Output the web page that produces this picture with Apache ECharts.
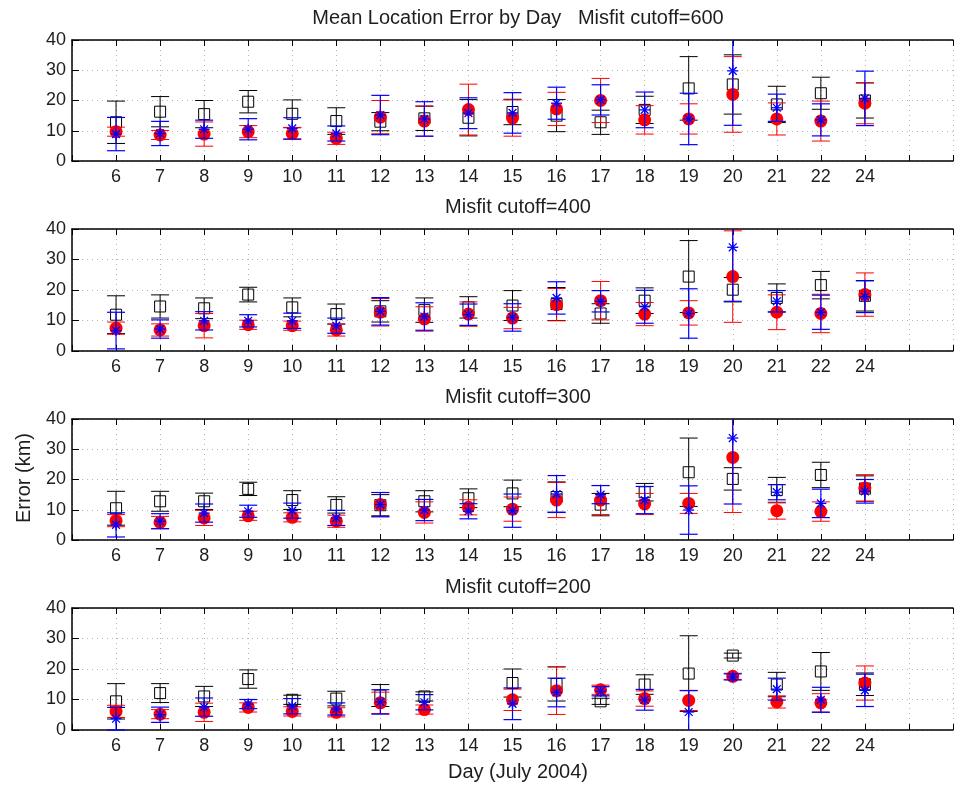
<!DOCTYPE html>
<html>
<head>
<meta charset="utf-8">
<script src="https://cdn.jsdelivr.net/npm/echarts@6/dist/echarts.min.js"></script>
<style>
html, body { margin: 0; padding: 0; background: #fff; }
#chart { width: 956px; height: 787px; }
</style>
</head>
<body>
<div id="chart"></div>
<script>
// Days of July 2004 (no run on the 23rd)
const dayLabels = ['6','7','8','9','10','11','12','13','14','15','16','17','18','19','20','21','22','24'];
const yTicks = [0, 10, 20, 30, 40];

// Misfit cutoff = 600
const c600SquareMean = [12.8, 16.3, 15.5, 19.6, 15.6, 13.2, 13.0, 14.1, 14.3, 16.2, 15.0, 12.8, 16.9, 24.0, 25.3, 18.7, 22.4, 20.0];
const c600SquareErr  = [7.0, 5.0, 4.5, 3.7, 4.6, 4.4, 3.0, 4.0, 6.0, 4.2, 5.3, 4.0, 4.5, 10.5, 9.8, 6.0, 5.3, 5.8];
const c600StarMean   = [8.9, 9.1, 10.5, 10.5, 10.8, 9.1, 15.2, 13.9, 15.8, 15.9, 19.1, 20.2, 16.9, 13.9, 29.8, 17.6, 13.6, 20.7];
const c600StarErr    = [5.5, 4.0, 3.0, 3.5, 3.5, 2.5, 6.5, 5.7, 5.1, 6.7, 5.3, 5.0, 5.9, 8.5, 18.0, 4.5, 5.3, 9.0];
const c600DotMean    = [9.7, 8.6, 8.9, 9.7, 9.1, 7.5, 14.5, 13.2, 17.0, 14.2, 17.2, 20.0, 13.6, 13.9, 22.0, 13.9, 13.2, 19.1];
const c600DotErr     = [1.5, 1.5, 4.0, 2.0, 2.0, 2.0, 5.5, 5.0, 8.4, 6.0, 5.5, 7.3, 4.7, 5.0, 12.5, 5.3, 6.6, 6.8];

// Misfit cutoff = 400
const c400SquareMean = [11.9, 14.6, 14.0, 18.5, 14.3, 12.1, 13.0, 13.4, 14.3, 14.9, 15.4, 12.3, 16.5, 24.4, 20.1, 17.4, 21.6, 18.1];
const c400SquareErr  = [6.2, 3.8, 3.4, 2.4, 3.1, 3.3, 3.5, 4.0, 3.5, 4.9, 5.4, 3.2, 4.2, 11.8, 4.0, 4.6, 4.5, 5.0];
const c400StarMean   = [6.7, 7.2, 9.9, 9.9, 9.9, 8.3, 13.0, 11.3, 11.9, 11.0, 17.4, 16.3, 14.5, 12.3, 34.0, 16.3, 12.7, 17.8];
const c400StarErr    = [6.0, 3.0, 3.0, 2.0, 2.5, 2.5, 4.5, 4.5, 3.5, 4.5, 5.3, 3.5, 5.4, 8.1, 17.7, 3.5, 5.6, 5.2];
const c400DotMean    = [7.5, 6.9, 8.3, 8.6, 8.3, 6.9, 12.7, 10.5, 12.1, 10.8, 15.2, 16.5, 12.1, 12.5, 24.4, 12.7, 12.3, 18.5];
const c400DotErr     = [2.0, 2.0, 4.0, 1.5, 1.5, 2.0, 4.5, 4.0, 4.0, 3.5, 5.3, 6.3, 3.8, 4.0, 15.0, 5.7, 6.3, 7.1];

// Misfit cutoff = 300
const c300SquareMean = [10.5, 12.8, 12.8, 16.9, 13.2, 11.6, 11.5, 12.8, 13.8, 15.4, 14.2, 11.7, 15.8, 22.4, 20.2, 16.5, 21.5, 17.0];
const c300SquareErr  = [5.6, 3.3, 2.7, 2.2, 3.1, 2.7, 3.5, 3.5, 3.1, 4.4, 5.0, 3.7, 2.9, 11.3, 3.7, 4.2, 4.2, 4.2];
const c300StarMean   = [5.0, 6.2, 8.9, 9.5, 9.7, 7.3, 11.7, 9.9, 9.5, 9.7, 15.2, 15.0, 13.2, 9.9, 33.7, 15.8, 12.1, 16.1];
const c300StarErr    = [4.0, 2.5, 3.0, 2.0, 2.5, 2.5, 4.0, 3.5, 2.5, 5.5, 6.1, 3.0, 4.5, 8.0, 21.8, 2.5, 4.7, 3.9];
const c300DotMean    = [6.4, 5.8, 7.3, 8.0, 7.5, 6.2, 11.7, 9.1, 10.8, 10.2, 13.2, 13.2, 11.9, 12.1, 27.3, 9.7, 9.4, 17.2];
const c300DotErr     = [2.0, 2.0, 2.5, 1.5, 1.5, 2.0, 4.0, 3.5, 2.5, 4.0, 5.8, 4.8, 3.5, 3.3, 18.2, 2.8, 3.2, 4.4];

// Misfit cutoff = 200 (no events kept on the 14th)
const c200SquareMean = [9.4, 12.1, 11.0, 16.7, 9.9, 10.3, 11.3, 11.0, null, 15.4, 15.1, 9.4, 14.9, 18.5, 24.4, 14.9, 19.2, 15.0];
const c200SquareErr  = [5.8, 3.1, 3.3, 3.0, 1.5, 2.4, 3.6, 1.5, null, 4.6, 5.6, 1.0, 3.2, 12.4, 0.8, 4.0, 6.2, 3.7];
const c200StarMean   = [3.7, 5.0, 7.5, 8.5, 7.8, 6.9, 9.2, 9.1, null, 8.6, 12.3, 12.7, 9.9, 5.9, 17.4, 13.4, 9.9, 13.0];
const c200StarErr    = [3.7, 2.5, 3.0, 1.5, 2.5, 2.0, 4.0, 2.5, null, 5.2, 4.7, 1.5, 3.4, 7.0, 1.0, 3.6, 4.1, 5.3];
const c200DotMean    = [6.1, 5.2, 5.8, 7.4, 6.1, 5.8, 8.9, 6.7, null, 9.9, 12.9, 13.2, 10.3, 9.7, 17.6, 9.2, 8.9, 15.4];
const c200DotErr     = [2.0, 1.5, 3.0, 1.5, 1.5, 1.5, 3.5, 1.5, null, 3.5, 7.8, 1.5, 2.5, 3.3, 1.0, 2.0, 3.0, 5.6];

const panelTitles = [
  'Mean Location Error by Day   Misfit cutoff=600',
  'Misfit cutoff=400',
  'Misfit cutoff=300',
  'Misfit cutoff=200'
];

const panels = [
  { square: [c600SquareMean, c600SquareErr], star: [c600StarMean, c600StarErr], dot: [c600DotMean, c600DotErr] },
  { square: [c400SquareMean, c400SquareErr], star: [c400StarMean, c400StarErr], dot: [c400DotMean, c400DotErr] },
  { square: [c300SquareMean, c300SquareErr], star: [c300StarMean, c300StarErr], dot: [c300DotMean, c300DotErr] },
  { square: [c200SquareMean, c200SquareErr], star: [c200StarMean, c200StarErr], dot: [c200DotMean, c200DotErr] }
];

// Layout of the four stacked axes boxes
const FONT = '"Liberation Sans", Arial, Helvetica, sans-serif';
const TEXT_COLOR = '#1e1e1e';
const gridLeft = 72;
const gridWidth = 892;
const gridTops = [40, 229, 419, 608];
const gridHeights = [121, 122, 121, 122];
const titleY = [18, 207, 397, 587];

function toData(means, errs) {
  const out = [];
  means.forEach((m, i) => {
    if (m !== null && errs[i] !== null) out.push([i, m, errs[i]]);
  });
  return out;
}

// Error bar (vertical line with caps) plus marker, clipped to the axes box
function makeRenderer(kind, color) {
  return function (params, api) {
    const x = api.value(0), v = api.value(1), e = api.value(2);
    if (isNaN(v)) return;
    const cs = params.coordSys;
    const yMin = cs.y, yMax = cs.y + cs.height;
    const c = api.coord([x, v]);
    const t = api.coord([x, v + e]);
    const b = api.coord([x, v - e]);
    const cap = 9;
    const stroke = { stroke: color, lineWidth: kind === 'star' ? 1.2 : 1, fill: null };
    const children = [];
    const y1 = Math.max(t[1], yMin), y2 = Math.min(b[1], yMax);
    children.push({ type: 'line', shape: { x1: c[0], y1: y1, x2: c[0], y2: y2 }, style: stroke });
    if (t[1] >= yMin) children.push({ type: 'line', shape: { x1: c[0] - cap, y1: t[1], x2: c[0] + cap, y2: t[1] }, style: stroke });
    if (b[1] <= yMax) children.push({ type: 'line', shape: { x1: c[0] - cap, y1: b[1], x2: c[0] + cap, y2: b[1] }, style: stroke });
    if (c[1] >= yMin - 1 && c[1] <= yMax + 1) {
      if (kind === 'square') {
        children.push({ type: 'rect', shape: { x: c[0] - 5.5, y: c[1] - 5.5, width: 11, height: 11 },
          style: { fill: null, stroke: color, lineWidth: 1 } });
      } else if (kind === 'dot') {
        children.push({ type: 'circle', shape: { cx: c[0], cy: c[1], r: 6.5 }, style: { fill: color } });
      } else {
        const r = 5.5, d = 3.9;
        const st = { stroke: color, lineWidth: 1.3 };
        children.push({ type: 'line', shape: { x1: c[0], y1: c[1] - r, x2: c[0], y2: c[1] + r }, style: st });
        children.push({ type: 'line', shape: { x1: c[0] - r, y1: c[1], x2: c[0] + r, y2: c[1] }, style: st });
        children.push({ type: 'line', shape: { x1: c[0] - d, y1: c[1] - d, x2: c[0] + d, y2: c[1] + d }, style: st });
        children.push({ type: 'line', shape: { x1: c[0] - d, y1: c[1] + d, x2: c[0] + d, y2: c[1] - d }, style: st });
      }
    }
    return { type: 'group', children: children };
  };
}

const grids = [], xAxes = [], yAxes = [], series = [];
const gridLine = { show: true, lineStyle: { color: '#b4b4b4', width: 1, type: [1, 4] } };

panels.forEach((p, i) => {
  grids.push({ left: gridLeft, width: gridWidth, top: gridTops[i], height: gridHeights[i], show: false });
  // bottom axis with day labels
  xAxes.push({
    gridIndex: i, type: 'value', min: -1, max: 19, interval: 1, position: 'bottom',
    axisLine: { show: true, onZero: false, lineStyle: { color: '#000', width: 1.5 } },
    axisTick: { show: true, inside: true, length: 6, lineStyle: { color: '#000' } },
    axisLabel: {
      fontSize: 18, fontFamily: FONT, color: TEXT_COLOR, margin: 7,
      showMinLabel: true, showMaxLabel: true,
      formatter: function (val) {
        const k = Math.round(val);
        return (k >= 0 && k < dayLabels.length) ? dayLabels[k] : '';
      }
    },
    splitLine: gridLine
  });
  // top edge of the box with inward ticks
  xAxes.push({
    gridIndex: i, type: 'value', min: -1, max: 19, interval: 1, position: 'top',
    axisLine: { show: true, onZero: false, lineStyle: { color: '#000', width: 1.5 } },
    axisTick: { show: true, inside: true, length: 6, lineStyle: { color: '#000' } },
    axisLabel: { show: false },
    splitLine: { show: false }
  });
  yAxes.push({
    gridIndex: i, type: 'value', min: yTicks[0], max: yTicks[yTicks.length - 1], interval: 10,
    axisLine: { show: true, onZero: false, lineStyle: { color: '#000', width: 1.5 } },
    axisTick: { show: true, inside: true, length: 7, lineStyle: { color: '#000' } },
    axisLabel: { fontSize: 18, fontFamily: FONT, color: TEXT_COLOR, margin: 6 },
    splitLine: gridLine
  });
  const xi = i * 2;
  [['square', '#000000'], ['dot', '#ff0000'], ['star', '#0000ff']].forEach(([kind, color]) => {
    series.push({
      type: 'custom', name: kind + '-' + i, xAxisIndex: xi, yAxisIndex: i,
      renderItem: makeRenderer(kind, color),
      encode: { x: 0, y: 1 },
      data: toData(p[kind][0], p[kind][1]),
      silent: true, animation: false
    });
  });
});

const graphics = panelTitles.map((t, i) => ({
  type: 'text', x: gridLeft + gridWidth / 2, y: titleY[i],
  style: { text: t, font: '20px ' + FONT, fill: TEXT_COLOR, align: 'center', verticalAlign: 'middle' }
}));
graphics.push({
  type: 'text', x: gridLeft + gridWidth / 2, y: 772,
  style: { text: 'Day (July 2004)', font: '20px ' + FONT, fill: TEXT_COLOR, align: 'center', verticalAlign: 'middle' }
});
graphics.push({
  type: 'text', x: 24, y: 478, rotation: Math.PI / 2,
  style: { text: 'Error (km)', font: '20px ' + FONT, fill: TEXT_COLOR, align: 'center', verticalAlign: 'middle' }
});

const chart = echarts.init(document.getElementById('chart'), null, { renderer: 'canvas' });
chart.setOption({
  backgroundColor: '#ffffff',
  animation: false,
  grid: grids,
  xAxis: xAxes,
  yAxis: yAxes,
  series: series,
  graphic: graphics
});
</script>
</body>
</html>
